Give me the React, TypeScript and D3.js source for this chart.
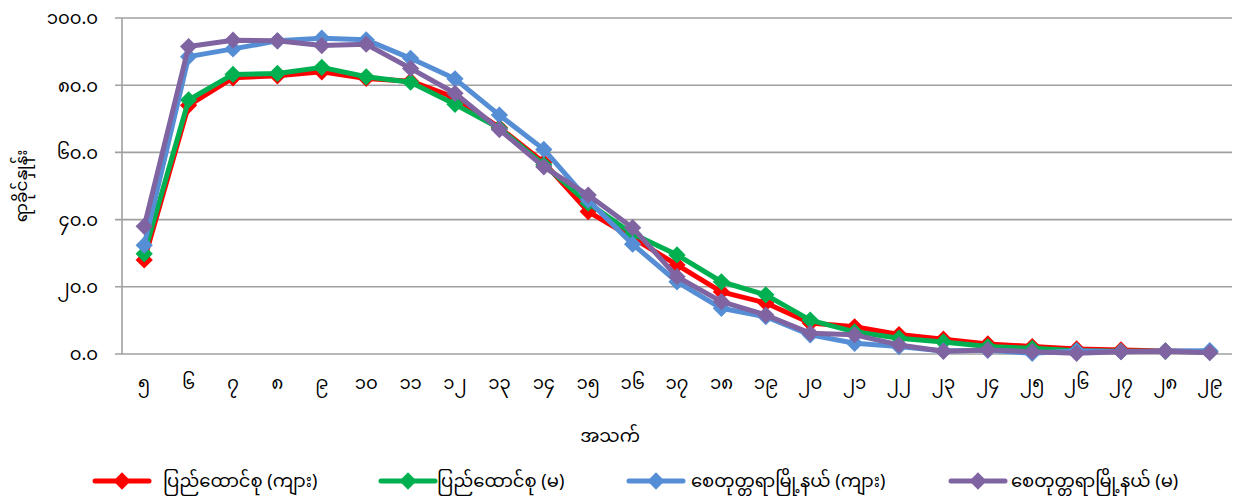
import React from "react";
import * as d3 from "d3";

const ages = [5,6,7,8,9,10,11,12,13,14,15,16,17,18,19,20,21,22,23,24,25,26,27,28,29];
const xTickLabels = ["၅","၆","၇","၈","၉","၁၀","၁၁","၁၂","၁၃","၁၄","၁၅","၁၆","၁၇","၁၈","၁၉","၂၀","၂၁","၂၂","၂၃","၂၄","၂၅","၂၆","၂၇","၂၈","၂၉"];
const yTicks = [0, 20, 40, 60, 80, 100];
const yTickLabels = ["၀.၀","၂၀.၀","၄၀.၀","၆၀.၀","၈၀.၀","၁၀၀.၀"];

const unionMale = [28.0,74.0,82.2,82.8,84.0,82.0,81.2,76.3,67.4,57.0,42.4,34.6,26.5,18.5,15.2,9.2,8.1,5.8,4.4,3.0,2.2,1.5,1.2,0.9,0.7];
const unionFemale = [29.8,75.6,83.2,83.5,85.3,82.5,80.9,74.3,67.2,56.3,44.9,35.8,29.5,21.5,17.6,10.1,6.6,4.7,3.6,2.2,1.7,1.0,0.8,0.8,0.6];
const townshipMale = [32.4,88.5,90.8,93.2,94.0,93.5,88.0,81.9,71.1,60.9,45.8,32.7,21.5,13.6,11.1,5.7,3.2,2.2,0.9,1.1,0.2,1.0,0.7,0.9,1.0];
const townshipFemale = [38.0,91.5,93.4,93.2,91.8,92.2,85.0,77.6,66.8,55.7,47.3,37.6,23.0,15.6,11.6,6.2,5.7,2.7,0.8,1.2,0.7,0.2,0.7,0.8,0.4];

const seriesNames = ["ပြည်ထောင်စု (ကျား)","ပြည်ထောင်စု (မ)","စေတုတ္တရာမြို့နယ် (ကျား)","စေတုတ္တရာမြို့နယ် (မ)"];
const seriesColors = ["#FF0000","#00B050","#558ED5","#8064A2"];
const seriesData = [unionMale, unionFemale, townshipMale, townshipFemale];

const yTitle = "ရာခိုင်နှုန်း";
const xTitle = "အသက်";

const FONT = "'Myanmar Text','Noto Sans Myanmar','Padauk','Myanmar3',Pyidaungsu,'Noto Sans',sans-serif";

export default function App() {
  const W = 1242, H = 500;
  const left = 122, right = 1232, top = 18, bottom = 354;
  const x = d3.scaleBand<number>().domain(ages).range([left, right]);
  const cx = (a: number) => (x(a) as number) + x.bandwidth() / 2;
  const y = d3.scaleLinear().domain([0, 100]).range([bottom, top]);
  const line = d3.line<number>().x((_, i) => cx(ages[i])).y((v) => y(v));
  const diamond = d3.symbol().type(d3.symbolDiamond2).size(190)();
  const legendLineX = [95, 381, 629, 951];
  const legendTextX = [163, 437, 691, 1011];
  const legendY = 481;

  return (
    <svg width={W} height={H} style={{ position: "absolute", left: 0, top: 0, background: "#fff" }} fontFamily={FONT}>
      <rect x={0} y={0} width={W} height={H} fill="#fff" />
      {yTicks.map((t) => (
        <line key={t} x1={left - 7} x2={right} y1={y(t)} y2={y(t)} stroke="#A0A0A0" strokeWidth={1.6} />
      ))}
      <line x1={left} x2={left} y1={top} y2={bottom} stroke="#A0A0A0" strokeWidth={1.6} />
      {yTicks.map((t, i) => (
        <text key={t} x={98} y={y(t)} dy="0.35em" textAnchor="end" fontSize={18} fill="#000">{yTickLabels[i]}</text>
      ))}
      {ages.map((a, i) => (
        <text key={a} x={cx(a)} y={383} dy="0.35em" textAnchor="middle" fontSize={18} fill="#000">{xTickLabels[i]}</text>
      ))}
      <text x={610} y={436} dy="0.35em" textAnchor="middle" fontSize={18} fill="#000">{xTitle}</text>
      <text transform={`translate(21,186) rotate(-90)`} dy="0.35em" textAnchor="middle" fontSize={17} fill="#000">{yTitle}</text>
      {seriesData.map((d, s) => (
        <g key={s}>
          <path d={line(d) || ""} fill="none" stroke={seriesColors[s]} strokeWidth={5} strokeLinejoin="round" />
          {d.map((v, i) => (
            <path key={i} d={diamond || ""} transform={`translate(${cx(ages[i])},${y(v)})`} fill={seriesColors[s]} />
          ))}
        </g>
      ))}
      {seriesNames.map((n, s) => (
        <g key={n}>
          <line x1={legendLineX[s]} x2={legendLineX[s] + 54} y1={legendY} y2={legendY} stroke={seriesColors[s]} strokeWidth={5} strokeLinecap="round" />
          <path d={diamond || ""} transform={`translate(${legendLineX[s] + 27},${legendY})`} fill={seriesColors[s]} />
          <text x={legendTextX[s]} y={legendY} dy="0.35em" fontSize={18} fill="#000">{n}</text>
        </g>
      ))}
    </svg>
  );
}
